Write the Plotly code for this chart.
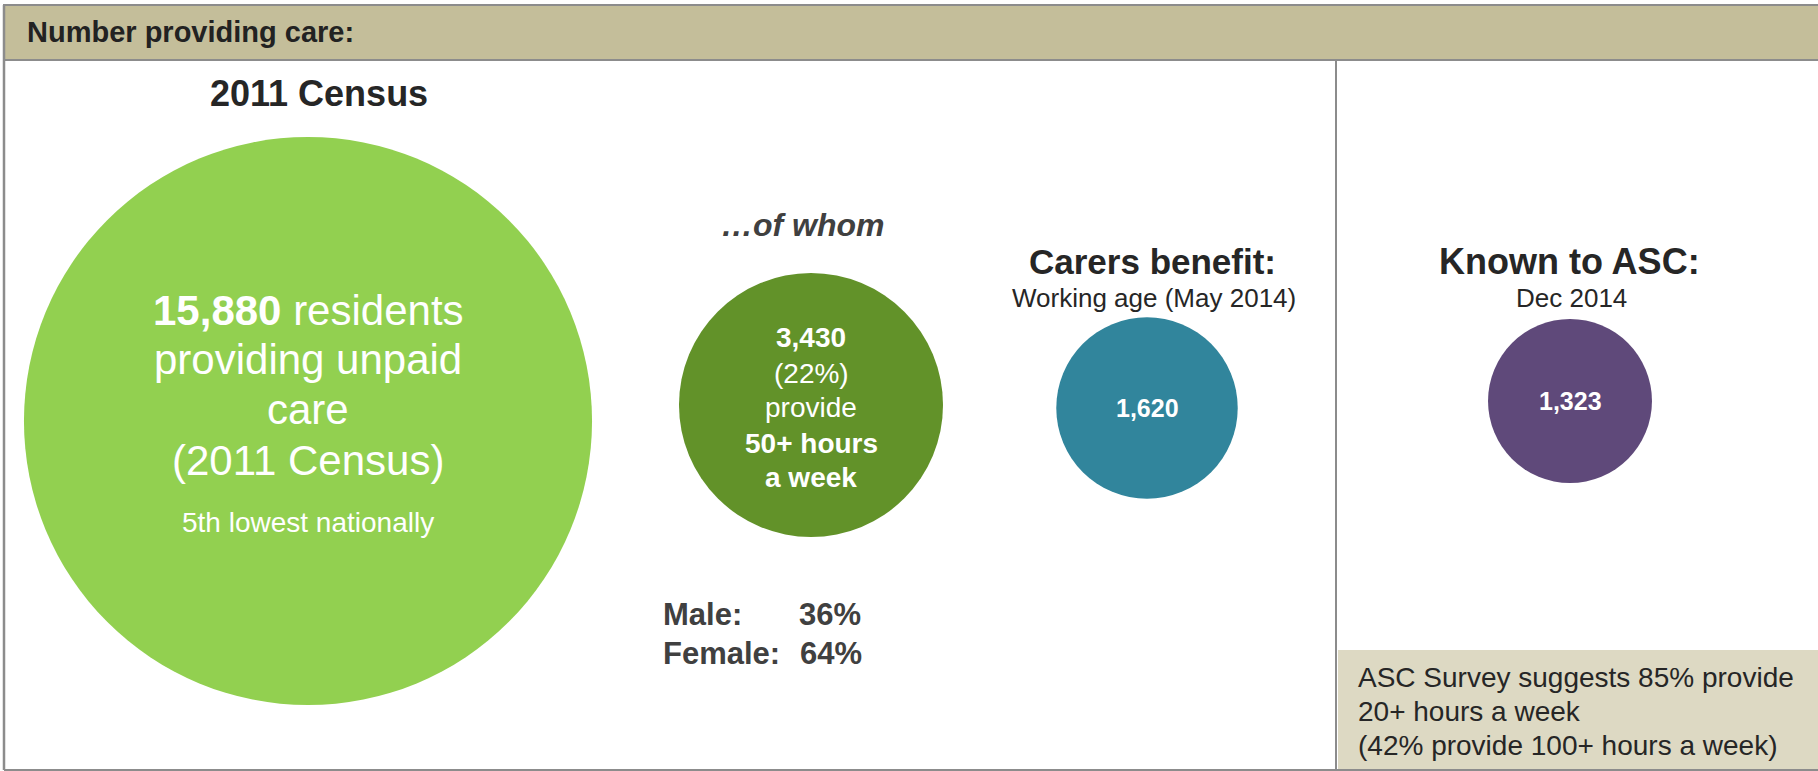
import math
import plotly.graph_objects as go

# ---- values -------------------------------------------------------------
circle_names = ["Census carers", "50+ hours", "Carers benefit", "Known to ASC"]
circle_values = [15880, 3430, 1620, 1323]
share_50_plus = 22          # % of census carers giving 50+ hours
male_pct = 36
female_pct = 64
survey_20_plus = 85
survey_100_plus = 42
national_rank = "5th"

# ---- page geometry (pixels; axes are mapped 1:1 to the page) ------------
W, H = 1818, 771
FONT = "Liberation Sans, Arial, Helvetica, sans-serif"
DARK = "#262626"
GREY = "#404040"
BORDER = "#8C8C8C"

# circle areas are proportional to the values
scale = 4.508
centres = [(308, 421), (811, 405), (1147, 408), (1570, 401)]
fills = ["#92D050", "#629229", "#31859C", "#5F497A"]

fig = go.Figure()
fig.add_trace(go.Scatter(x=[0, W], y=[0, H], mode="markers",
                         marker=dict(opacity=0), hoverinfo="skip", showlegend=False))

shapes = []
# header band and frame
shapes.append(dict(type="rect", x0=4, x1=W + 5, y0=5, y1=60,
                   fillcolor="#C4BE9A", line=dict(color=BORDER, width=2)))
shapes.append(dict(type="line", x0=4, x1=4, y0=5, y1=770, line=dict(color=BORDER, width=2.5)))
shapes.append(dict(type="line", x0=4, x1=W, y0=770, y1=770, line=dict(color=BORDER, width=2)))
shapes.append(dict(type="line", x0=1336, x1=1336, y0=60, y1=770, line=dict(color=BORDER, width=2)))
# survey note box
shapes.append(dict(type="rect", x0=1338, x1=W + 2, y0=650, y1=769,
                   fillcolor="#DDD9C3", line=dict(width=0), layer="below"))

for (cx, cy), v, col in zip(centres, circle_values, fills):
    r = scale * math.sqrt(v) / 2
    shapes.append(dict(type="circle", x0=cx - r, x1=cx + r, y0=cy - r, y1=cy + r,
                       fillcolor=col, line=dict(width=0)))

ann = []


def txt(x, y, s, size, color=DARK, anchor="center", bold=False, italic=False):
    if bold:
        s = f"<b>{s}</b>"
    if italic:
        s = f"<i>{s}</i>"
    ann.append(dict(x=x, y=y, xref="x", yref="y", text=s, showarrow=False,
                    xanchor=anchor, yanchor="middle",
                    font=dict(family=FONT, size=size, color=color)))


fmt = lambda v: f"{v:,}"

# header
txt(25, 32, "Number providing care:", 29, "#222222", anchor="left", bold=True)

# census circle
txt(319, 93, "2011 Census", 36, DARK, bold=True)
cx = centres[0][0]
txt(cx, 310, f"<b>{fmt(circle_values[0])}</b> residents", 42, "white")
txt(cx, 359, "providing unpaid", 42, "white")
txt(cx, 409, "care", 42, "white")
txt(cx, 460, "(2011 Census)", 42, "white")
txt(cx, 522, f"{national_rank} lowest nationally", 28, "white")

# 50+ hours circle
txt(803, 225, "\u2026of whom", 32, GREY, bold=True, italic=True)
cx = centres[1][0]
txt(cx, 337, fmt(circle_values[1]), 28, "white", bold=True)
txt(cx, 373, f"({share_50_plus}%)", 28, "white")
txt(cx, 407, "provide", 28, "white")
txt(cx, 443, "50+ hours", 28, "white", bold=True)
txt(cx, 477, "a week", 28, "white", bold=True)

txt(661, 614, "Male:", 31, GREY, anchor="left", bold=True)
txt(797, 614, f"{male_pct}%", 31, GREY, anchor="left", bold=True)
txt(661, 653, "Female:", 31, GREY, anchor="left", bold=True)
txt(798, 653, f"{female_pct}%", 31, GREY, anchor="left", bold=True)

# carers benefit circle
txt(1152, 261, "Carers benefit:", 35, DARK, bold=True)
txt(1154, 298, "Working age (May 2014)", 26, DARK)
txt(centres[2][0], centres[2][1], fmt(circle_values[2]), 25, "white", bold=True)

# known to ASC circle
txt(1569, 261, "Known to ASC:", 36, DARK, bold=True)
txt(1571, 298, "Dec 2014", 26, DARK)
txt(centres[3][0], centres[3][1], fmt(circle_values[3]), 25, "white", bold=True)

# survey note
txt(1356, 677, f"ASC Survey suggests {survey_20_plus}% provide", 28, DARK, anchor="left")
txt(1356, 711, "20+ hours a week", 28, DARK, anchor="left")
txt(1356, 745, f"({survey_100_plus}% provide 100+ hours a week)", 28, DARK, anchor="left")

fig.update_layout(
    width=W, height=H,
    margin=dict(l=0, r=0, t=0, b=0),
    paper_bgcolor="white", plot_bgcolor="white",
    xaxis=dict(range=[0, W], visible=False, fixedrange=True),
    yaxis=dict(range=[H, 0], visible=False, fixedrange=True),
    shapes=shapes, annotations=ann, showlegend=False,
)

fig.write_html("out.html", config={"displayModeBar": False})
